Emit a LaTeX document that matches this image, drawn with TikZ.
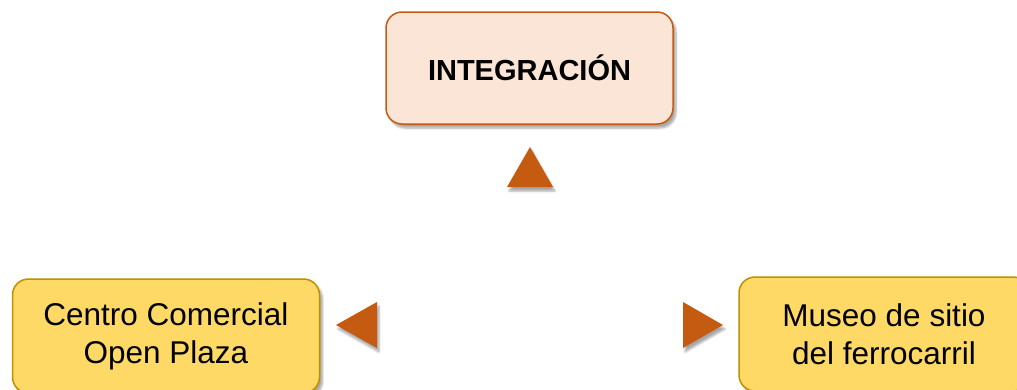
\documentclass[tikz,border=0pt]{standalone}
\usepackage{fontspec}
\setmainfont{Liberation Sans}
\usetikzlibrary{shadows,shadows.blur}
\definecolor{topfill}{HTML}{FBE5D6}
\definecolor{orangeline}{HTML}{C55A11}
\definecolor{yellowfill}{HTML}{FFD966}
\definecolor{yellowline}{HTML}{BF9000}
\tikzset{
  box/.style={draw, line width=1.5pt, rounded corners=16pt, align=center,
    blur shadow={shadow xshift=3pt, shadow yshift=-4pt, shadow blur steps=6, shadow opacity=35}},
  topbox/.style={box, fill=topfill, draw=orangeline, minimum width=287pt, minimum height=112pt,
    font=\fontsize{29}{34}\selectfont\bfseries},
  lowbox/.style={box, fill=yellowfill, draw=yellowline, minimum width=307pt, minimum height=114pt,
    font=\fontsize{31.5}{38}\selectfont},
  tri/.style={fill=orangeline,
    blur shadow={shadow xshift=2pt, shadow yshift=-4pt, shadow blur steps=5, shadow opacity=35}}
}
\begin{document}
\begin{tikzpicture}[x=1pt,y=-1pt]
\useasboundingbox (0,0) rectangle (1017,389);
\clip (0,0) rectangle (1017,389);
\node[topbox] (integ) at (529.5,68) {INTEGRACIÓN};
\node[lowbox] (centro) at (166,336) {Centro Comercial\\Open Plaza};
\node[lowbox, minimum width=290pt] (museo) at (884,334) {Museo de sitio\\del ferrocarril};
\coordinate (ta) at (530,147);
\coordinate (la) at (336,325);
\coordinate (ra) at (723,325);
\path[tri] (ta) -- (553,187) -- (507,187) -- cycle;
\path[tri] (la) -- (377,302) -- (377,348) -- cycle;
\path[tri] (ra) -- (683,302) -- (683,348) -- cycle;
\end{tikzpicture}
\end{document}
